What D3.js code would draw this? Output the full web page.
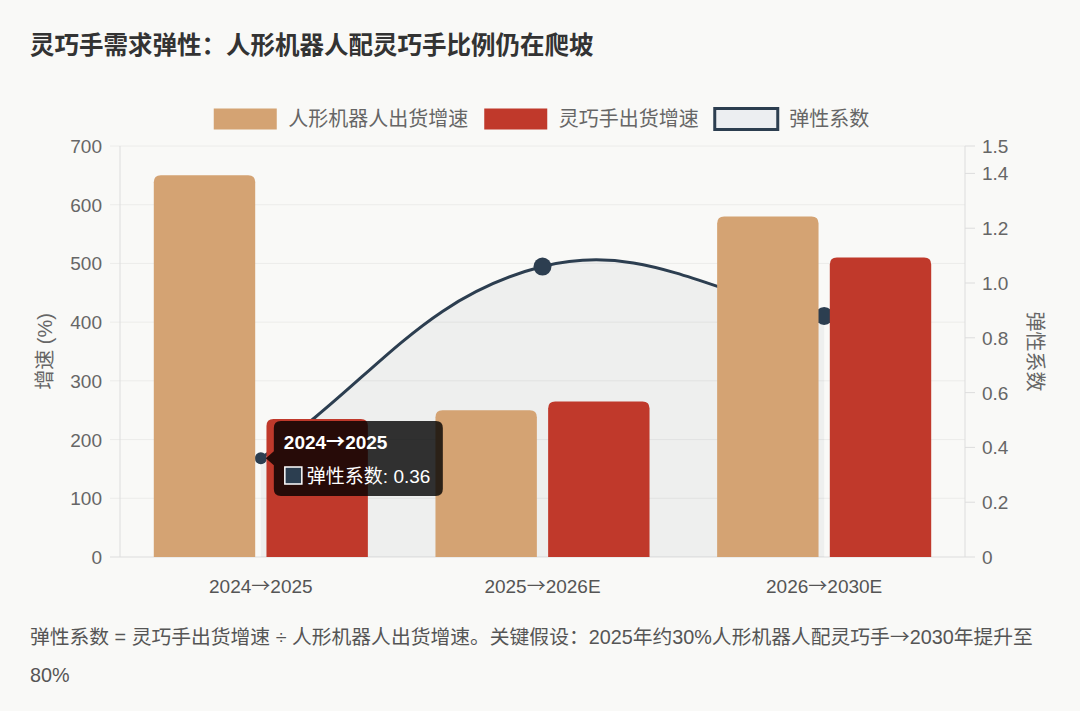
<!DOCTYPE html>
<html>
<head>
<meta charset="utf-8">
<script src="https://cdn.jsdelivr.net/npm/d3@7"></script>
<style>
  html, body { margin: 0; padding: 0; background: #f9f9f7; }
  svg { display: block; font-family: "Liberation Sans", "Noto Sans CJK SC", sans-serif; }
</style>
</head>
<body>
<div id="chart"></div>
<script>
var categories = ["2024→2025", "2025→2026E", "2026→2030E"]
var robotGrowth = [650, 250, 580]
var handGrowth = [235, 265, 510]
var elasticity = [0.36, 1.06, 0.88]
var leftTicks = [0, 100, 200, 300, 400, 500, 600, 700]
var rightTicks = [0, 0.2, 0.4, 0.6, 0.8, 1.0, 1.2, 1.4, 1.5]
var seriesNames = ["人形机器人出货增速", "灵巧手出货增速", "弹性系数"]

var W = 1080, H = 711
var m = { left: 120, right: 965, top: 146, bottom: 557 }
var tan = "#d4a373", red = "#c0392b", navy = "#2c3e50"

var svg = d3.select("#chart").append("svg").attr("width", W).attr("height", H)

var x0 = d3.scaleBand().domain(categories).range([m.left, m.right])
var x1 = d3.scaleBand().domain([0, 1]).range([0, x0.bandwidth() * 0.8]).paddingInner(0.1).paddingOuter(0.05)
var yL = d3.scaleLinear().domain([0, 700]).range([m.bottom, m.top])
var yR = d3.scaleLinear().domain([0, 1.5]).range([m.bottom, m.top])

// arrow glyph from the CJK font so it is a full-width arrow
function arrowText(sel, str) {
    str.split("→").forEach(function (part, i) {
        if (i > 0) sel.append("tspan").attr("font-family", "Noto Sans CJK SC").text("→")
        sel.append("tspan").text(part)
    })
}

// title
svg.append("text").attr("x", 30).attr("y", 54).attr("font-size", 24.5).attr("font-weight", "bold")
    .attr("fill", "#333").text("灵巧手需求弹性：人形机器人配灵巧手比例仍在爬坡")

// grid
svg.append("g").selectAll("line").data(leftTicks).join("line")
    .attr("x1", m.left - 10).attr("x2", m.right).attr("y1", function (d) { return yL(d) }).attr("y2", function (d) { return yL(d) })
    .attr("stroke", function (d) { return d == 0 ? "#ddd" : "#ececea" }).attr("stroke-width", 1)
svg.append("line").attr("x1", m.left).attr("x2", m.left).attr("y1", m.top).attr("y2", m.bottom).attr("stroke", "#ddd")
svg.append("line").attr("x1", m.right).attr("x2", m.right).attr("y1", m.top).attr("y2", m.bottom).attr("stroke", "#ddd")
svg.append("g").selectAll("line").data(rightTicks).join("line")
    .attr("x1", m.right).attr("x2", m.right + 10).attr("y1", function (d) { return yR(d) }).attr("y2", function (d) { return yR(d) })
    .attr("stroke", "#ddd")

// axes labels
svg.append("g").selectAll("text").data(leftTicks).join("text")
    .attr("x", 102).attr("y", function (d) { return yL(d) + 7 }).attr("text-anchor", "end")
    .attr("font-size", 19).attr("fill", "#666").text(function (d) { return d })
svg.append("g").selectAll("text").data(rightTicks).join("text")
    .attr("x", 982).attr("y", function (d) { return yR(d) + 7 })
    .attr("font-size", 19).attr("fill", "#666").text(function (d) { return d == 0 ? "0" : d.toFixed(1) })
svg.append("g").selectAll("text").data(categories).join("text")
    .attr("x", function (d) { return x0(d) + x0.bandwidth() / 2 }).attr("y", 593).attr("text-anchor", "middle")
    .attr("font-size", 19).attr("fill", "#555").each(function (d) { arrowText(d3.select(this), d) })
svg.append("text").attr("transform", "translate(52," + (m.top + m.bottom) / 2 + ") rotate(-90)")
    .attr("text-anchor", "middle").attr("font-size", 20).attr("fill", "#666").text("增速 (%)")
svg.append("text").attr("transform", "translate(1028," + (m.top + m.bottom) / 2 + ") rotate(90)")
    .attr("text-anchor", "middle").attr("font-size", 20).attr("fill", "#666").text("弹性系数")

// elasticity line, chart.js style spline (tension 0.4)
var pts = elasticity.map(function (v, i) { return { x: x0(categories[i]) + x0.bandwidth() / 2, y: yR(v) } })
function ctrl(prev, cur, next, t) {
    var d01 = Math.hypot(cur.x - prev.x, cur.y - prev.y), d12 = Math.hypot(next.x - cur.x, next.y - cur.y)
    var s01 = d01 / (d01 + d12) || 0, s12 = d12 / (d01 + d12) || 0
    return {
        p: { x: cur.x - t * s01 * (next.x - prev.x), y: cur.y - t * s01 * (next.y - prev.y) },
        n: { x: cur.x + t * s12 * (next.x - prev.x), y: cur.y + t * s12 * (next.y - prev.y) }
    }
}
var cps = pts.map(function (p, i) { return ctrl(pts[i - 1] || p, p, pts[i + 1] || p, 0.4) })
var line = d3.path()
line.moveTo(pts[0].x, pts[0].y)
for (var i = 1; i < pts.length; i++) {
    line.bezierCurveTo(cps[i - 1].n.x, cps[i - 1].n.y, cps[i].p.x, cps[i].p.y, pts[i].x, pts[i].y)
}
var lineStr = line.toString()
svg.append("path").attr("d", lineStr + "L" + pts[pts.length - 1].x + "," + m.bottom + "L" + pts[0].x + "," + m.bottom + "Z")
    .attr("fill", "rgba(44,62,80,0.05)")
svg.append("path").attr("d", lineStr).attr("fill", "none").attr("stroke", navy).attr("stroke-width", 3)
svg.append("g").selectAll("circle").data(pts).join("circle")
    .attr("cx", function (d) { return d.x }).attr("cy", function (d) { return d.y })
    .attr("r", function (d, i) { return i == 0 ? 6 : 9 }).attr("fill", navy)

// bars
function roundTop(x, y, w, h, r) {
    return "M" + x + "," + (y + h) + "V" + (y + r) + "Q" + x + "," + y + " " + (x + r) + "," + y +
        "H" + (x + w - r) + "Q" + (x + w) + "," + y + " " + (x + w) + "," + (y + r) + "V" + (y + h) + "Z"
}
var groups = svg.append("g").selectAll("g").data(categories).join("g")
    .attr("transform", function (d) { return "translate(" + (x0(d) + x0.bandwidth() * 0.1) + ",0)" })
groups.selectAll("path").data(function (d, i) { return [robotGrowth[i], handGrowth[i]] }).join("path")
    .attr("d", function (v, j) { return roundTop(x1(j), yL(v), x1.bandwidth(), m.bottom - yL(v), 7) })
    .attr("fill", function (v, j) { return j == 0 ? tan : red })

// legend
var leg = svg.append("g")
var lx = 0
var items = leg.selectAll("g").data(seriesNames).join("g")
items.append("rect").attr("x", 1.5).attr("y", 108.5).attr("width", 63).attr("height", 21)
    .attr("fill", function (d, i) { return [tan, red, "#eceef1"][i] })
    .attr("stroke", function (d, i) { return i == 2 ? navy : "none" }).attr("stroke-width", 3)
items.append("text").attr("x", 76).attr("y", 126).attr("font-size", 20).attr("fill", "#666").text(function (d) { return d })
items.each(function () {
    d3.select(this).attr("transform", "translate(" + lx + ",0)")
    lx += this.getBBox().width + 16
})
leg.attr("transform", "translate(" + (540 - (lx - 16) / 2) + ",0)")

// tooltip
var tp = pts[0]
var bx = tp.x + 13, by = 421, bw = 169, bh = 75, br = 7
svg.append("path").attr("d",
    "M" + (bx + br) + "," + by + "H" + (bx + bw - br) + "Q" + (bx + bw) + "," + by + " " + (bx + bw) + "," + (by + br) +
    "V" + (by + bh - br) + "Q" + (bx + bw) + "," + (by + bh) + " " + (bx + bw - br) + "," + (by + bh) +
    "H" + (bx + br) + "Q" + bx + "," + (by + bh) + " " + bx + "," + (by + bh - br) +
    "V" + (tp.y + 7) + "L" + (tp.x + 5) + "," + tp.y + "L" + bx + "," + (tp.y - 7) +
    "V" + (by + br) + "Q" + bx + "," + by + " " + (bx + br) + "," + by + "Z")
    .attr("fill", "rgba(0,0,0,0.8)")
svg.append("text").attr("x", bx + 10).attr("y", by + 28).attr("font-size", 19).attr("font-weight", "bold")
    .attr("fill", "#fff").call(arrowText, categories[0])
svg.append("rect").attr("x", bx + 11).attr("y", by + 46).attr("width", 17).attr("height", 17)
    .attr("fill", navy).attr("stroke", "#fff").attr("stroke-width", 1.5)
svg.append("text").attr("x", bx + 33).attr("y", by + 62).attr("font-size", 19).attr("fill", "#fff")
    .text(seriesNames[2] + ": " + elasticity[0])

// footer
var foot = svg.append("text").attr("font-size", 19.8).attr("fill", "#555")
foot.append("tspan").attr("x", 30).attr("y", 644)
foot.select("tspan").call(arrowText, "弹性系数 = 灵巧手出货增速 ÷ 人形机器人出货增速。关键假设：2025年约30%人形机器人配灵巧手→2030年提升至")
foot.append("tspan").attr("x", 30).attr("y", 682).text("80%")
</script>
</body>
</html>
